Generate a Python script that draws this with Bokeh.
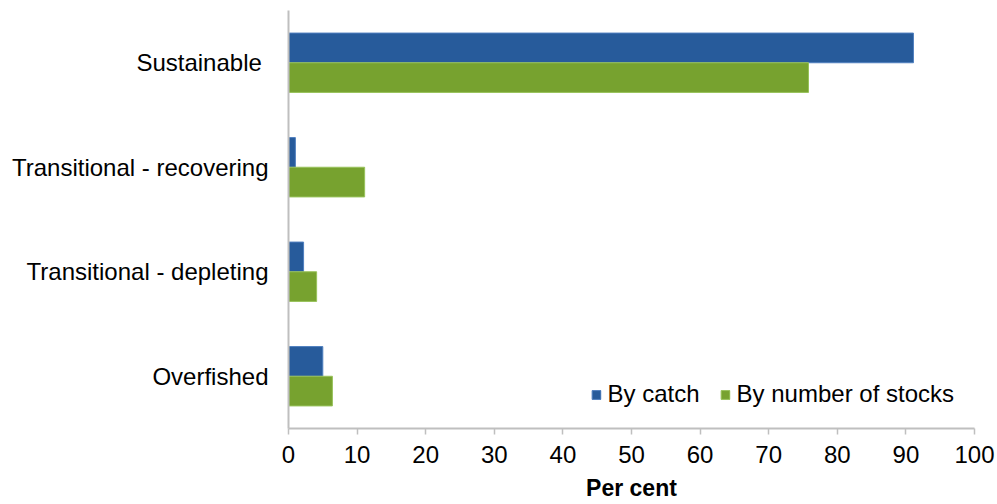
from bokeh.plotting import figure
from bokeh.models import ColumnDataSource, FactorRange, Range1d
from bokeh.transform import dodge
from bokeh.embed import file_html
from bokeh.resources import INLINE

categories = ["Overfished", "Transitional - depleting", "Transitional - recovering", "Sustainable "]
by_catch = [5.0, 2.2, 1.0, 91.1]
by_stocks = [6.4, 4.1, 11.1, 75.8]
x_ticks = [0, 10, 20, 30, 40, 50, 60, 70, 80, 90, 100]

src = ColumnDataSource(dict(cat=categories, catch=by_catch, stocks=by_stocks))

p = figure(width=995, height=503, y_range=FactorRange(*categories), x_range=Range1d(0, 100),
           output_backend="svg", toolbar_location=None,
           min_border_left=288, min_border_right=21, min_border_top=10, min_border_bottom=0)

bh = 0.284
p.hbar(y=dodge("cat", bh / 2, range=p.y_range), right="catch", height=bh, left=0, source=src,
       fill_color="#275B9B", line_color="#4F7FBF", line_width=1, legend_label="By catch")
p.hbar(y=dodge("cat", -bh / 2, range=p.y_range), right="stocks", height=bh, left=0, source=src,
       fill_color="#77A22F", line_color="#98C25A", line_width=1, legend_label="By number of stocks")

p.xgrid.visible = False
p.ygrid.visible = False
p.outline_line_color = None

xa = p.xaxis[0]
xa.ticker = x_ticks
xa.axis_line_color = "#BFBFBF"
xa.axis_line_width = 2
xa.major_tick_line_color = "#BFBFBF"
xa.major_tick_line_width = 1.5
xa.major_tick_out = 6
xa.major_tick_in = 0
xa.minor_tick_line_color = None
xa.major_label_text_font = "Liberation Sans"
xa.major_label_text_font_size = "24px"
xa.major_label_text_color = "#000000"
xa.major_label_standoff = 11
xa.axis_label = "Per cent"
xa.axis_label_text_font = "Liberation Sans"
xa.axis_label_text_font_style = "bold"
xa.axis_label_text_font_size = "23px"
xa.axis_label_text_color = "#000000"
xa.axis_label_standoff = 9

ya = p.yaxis[0]
ya.axis_line_color = "#BFBFBF"
ya.axis_line_width = 2
ya.major_tick_line_color = None
ya.minor_tick_line_color = None
ya.major_label_text_font = "Liberation Sans"
ya.major_label_text_font_size = "24px"
ya.major_label_text_color = "#000000"
ya.major_label_standoff = 14

lg = p.legend[0]
lg.location = "bottom_right"
lg.orientation = "horizontal"
lg.label_text_font = "Liberation Sans"
lg.label_text_font_size = "24px"
lg.label_text_color = "#000000"
lg.glyph_width = 11
lg.glyph_height = 11
lg.label_standoff = 6
lg.spacing = 20
lg.padding = 4
lg.margin = 20
lg.border_line_color = None
lg.background_fill_alpha = 0

open("out.html", "w").write(file_html(p, INLINE))
